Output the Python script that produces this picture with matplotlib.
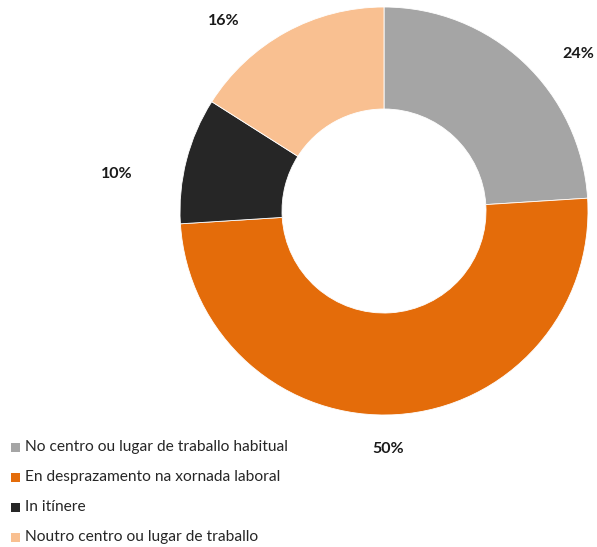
import matplotlib
matplotlib.use("Agg")
import matplotlib.pyplot as plt
from matplotlib.patches import Rectangle

categories = ["No centro ou lugar de traballo habitual",
              "En desprazamento na xornada laboral",
              "In itínere",
              "Noutro centro ou lugar de traballo"]
values = [24, 50, 10, 16]
colors = ["#A5A5A5", "#E46C0A", "#262626", "#F9C091"]
label_pos = [(0.951, 0.770), (0.02, -1.167), (-1.309, 0.181), (-0.784, 0.931)]

plt.rcParams['font.family'] = ['Lato', 'DejaVu Sans']

W, H = 597, 547
fig = plt.figure(figsize=(W/100, H/100), dpi=100)
cx, cy, R = 384, 211, 204
ax = fig.add_axes([(cx-R)/W, (H-cy-R)/H, 2*R/W, 2*R/H])
ax.pie(values, colors=colors, startangle=90, counterclock=False, radius=1,
       wedgeprops=dict(width=0.5, edgecolor='white', linewidth=0.6))
ax.set_xlim(-1, 1)
ax.set_ylim(-1, 1)
ax.set_aspect('auto')
ax.axis('off')

for v, (x, y) in zip(values, label_pos):
    ax.text(x, y, f"{v}%", ha='center', va='center', fontsize=11.5,
            fontweight='bold', color='#1a1a1a', clip_on=False)

rows_y = [447, 477, 507, 537]
for cat, col, yy in zip(categories, colors, rows_y):
    fig.patches.append(Rectangle((11/W, (H-yy-4.5)/H), 9/W, 9/H,
                                 transform=fig.transFigure, facecolor=col,
                                 edgecolor='none'))
    fig.text(25/W, (H-yy)/H, cat, ha='left', va='center', fontsize=11.2,
             color='#262626')

fig.savefig("out.png", dpi=100)
